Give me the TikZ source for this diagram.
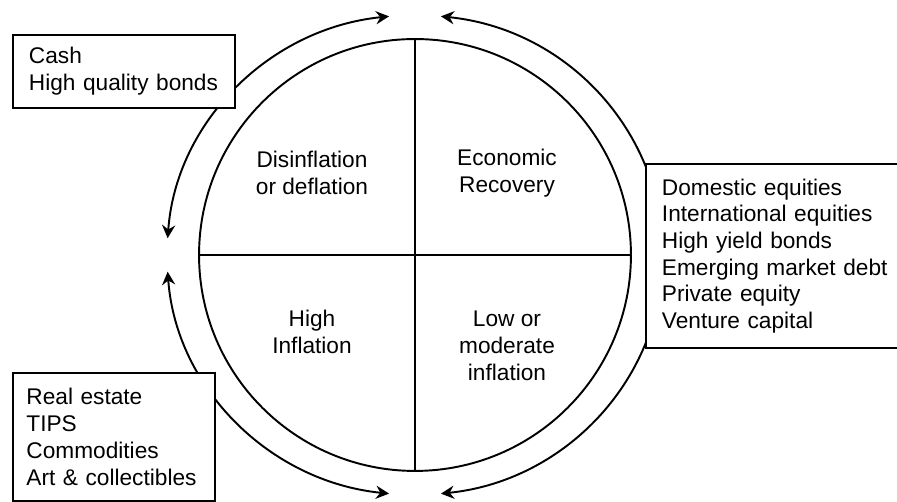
\documentclass[tikz,border=0pt]{standalone}
\usepackage{fontspec}
\setmainfont{Liberation Sans}
\usetikzlibrary{arrows.meta, calc, positioning}

\tikzset{
	assets/.style={draw, fill=white, align=left, anchor=north west, inner xsep=0.32cm, inner ysep=0pt, font=\fontsize{12.9}{15.2}\selectfont},
	phase/.style={align=center, inner sep=0pt, font=\fontsize{12.9}{15.2}\selectfont},
	swing/.style={{Stealth[length=7.5pt,width=7.5pt,inset=2.5pt]}-{Stealth[length=7.5pt,width=7.5pt,inset=2.5pt]}},
}

\begin{document}
\begin{tikzpicture}[x=0.02cm, y=0.02cm, line width=1.1pt]
	\useasboundingbox (0,0) rectangle (897,502);
	
	\coordinate (c) at (415,247);
	\node[draw, circle, minimum size=8.64cm, inner sep=0pt] (clock) at (c) {};
	\draw (clock.north) -- (clock.south)
	(clock.west) -- (clock.east);
	
	\node[phase] (defl) at (312,329) {Disinflation\\or deflation};
	\node[phase] (recov) at (507,329) {Economic\\Recovery};
	\node[phase] (hinf) at (312,170) {High\\Inflation};
	\node[phase] (linf) at (507,156) {Low or\\moderate\\inflation};
	
	% outer cycle
	\coordinate (tl) at ($(c)+(96:4.96cm and 4.8cm)$);
	\coordinate (bl) at ($(c)+(184:4.96cm and 4.8cm)$);
	\coordinate (tr) at ($(c)+(84:4.96cm and 4.8cm)$);
	\draw[swing] (tl) arc[start angle=96, end angle=176, x radius=4.96cm, y radius=4.8cm];
	\draw[swing] (bl) arc[start angle=184, end angle=264, x radius=4.96cm, y radius=4.8cm];
	\draw[swing] (tr) arc[start angle=84, end angle=-84, x radius=4.96cm, y radius=4.8cm];
	
	\node[assets, text width=3.8cm, minimum height=1.46cm] (cash) at (12,468) {Cash\\High quality bonds};
	\node[assets, text width=4.56cm, minimum height=3.68cm] (growth) at (645,339) {Domestic equities\\International equities\\High yield bonds\\Emerging market debt\\Private equity\\Venture capital};
	\node[assets, text width=3.5cm, inner xsep=0.27cm, minimum height=2.56cm] (real) at (12,130) {\hyphenpenalty=10000 Real estate\\TIPS\\Commodities\\Art \& collectibles};
\end{tikzpicture}
\end{document}
